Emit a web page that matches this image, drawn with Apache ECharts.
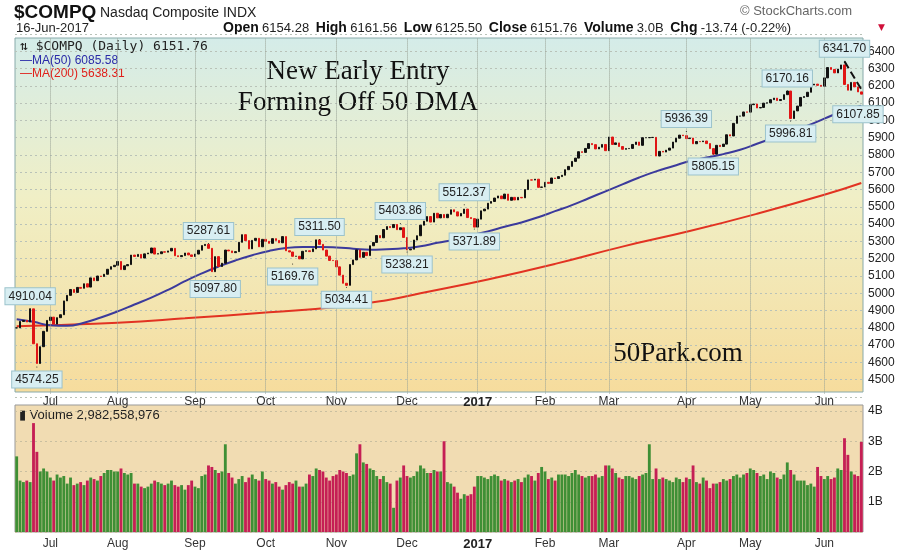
<!DOCTYPE html>
<html><head><meta charset="utf-8">
<script src="https://cdn.jsdelivr.net/npm/echarts@6/dist/echarts.min.js"></script>
<style>html,body{margin:0;padding:0;background:#fff}#c{width:900px;height:554px}</style>
</head><body><div id="c"></div>
<script>
// ---- data ----
const holidays = ['2016-07-04','2016-09-05','2016-11-24','2016-12-26','2017-01-02','2017-01-16','2017-02-20','2017-04-14','2017-05-29'];
const closesByMonth = [
 [4800,4837,4843,4834,4910,4708,4594,4691,4780,4843],
 [4862,4822,4859,4876,4956,4988,5022,5005,5034,5029,5055,5036,5089,5073,5100,5097,5110,5139,5154,5162],
 [5184,5137,5159,5166,5221,5213,5225,5204,5228,5233,5262,5227,5229,5240,5238,5245,5260,5217,5212,5218,5233,5222,5213],
 [5227,5249,5276,5283,5260,5125,5212,5155,5174,5250,5245,5235,5241,5295,5339,5305,5257,5306,5318,5269,5312],
 [5301,5289,5316,5306,5292,5328,5246,5239,5214,5214,5199,5243,5246,5241,5257,5309,5283,5250,5215,5190,5189],
 [5153,5105,5058,5046,5166,5193,5251,5208,5237,5218,5275,5294,5334,5321,5369,5386,5380,5398,5368,5379,5323],
 [5251,5255,5308,5333,5394,5417,5444,5412,5463,5436,5456,5437,5457,5483,5471,5447,5462,5487,5438,5432,5383],
 [5429,5477,5487,5521,5531,5551,5563,5547,5574,5538,5555,5540,5555,5552,5600,5656,5655,5660,5613,5615],
 [5642,5636,5667,5664,5675,5683,5715,5734,5763,5782,5819,5815,5838,5866,5860,5835,5845,5861,5825],
 [5904,5861,5870,5849,5833,5837,5838,5861,5875,5856,5900,5900,5901,5902,5794,5821,5817,5828,5840,5875,5897,5915,5912],
 [5895,5898,5865,5878,5877,5881,5866,5837,5805,5856,5849,5863,5917,5910,5983,6025,6025,6049,6048],
 [6091,6095,6072,6075,6100,6102,6120,6129,6115,6121,6149,6170,6011,6055,6083,6133,6138,6163,6205,6210,6203,6198],
 [6246,6306,6295,6275,6297,6321,6208,6175,6220,6194,6165,6152]
];
const volumeByMonth = [
 [2.5,1.7,1.65,1.7,1.65,3.6,2.65,2.0,2.1,2.0],
 [1.8,1.7,1.9,1.8,1.85,1.6,1.8,1.55,1.6,1.65,1.55,1.7,1.8,1.75,1.7,1.85,1.95,2.05,2.05,2.0],
 [2.0,2.1,1.95,1.9,1.95,1.6,1.6,1.5,1.45,1.5,1.6,1.7,1.65,1.6,1.55,1.6,1.7,1.55,1.5,1.55,1.4,1.55,1.7],
 [1.5,1.45,1.85,1.9,2.2,2.15,2.05,1.95,2.0,2.9,1.95,1.8,1.6,1.75,1.85,1.65,1.8,1.9,1.75,1.7,2.0],
 [1.75,1.7,1.6,1.65,1.5,1.4,1.55,1.65,1.6,1.7,1.5,1.5,1.6,1.9,1.85,2.1,2.05,2.0,1.8,1.7,1.85],
 [1.9,2.05,2.0,1.95,1.85,1.9,2.6,2.9,2.3,2.25,2.1,2.05,1.85,1.75,1.85,1.65,1.6,0.8,1.7,1.8,2.2],
 [1.85,1.8,1.85,2.0,2.2,2.1,1.95,1.95,2.05,2.0,2.0,3.0,1.65,1.6,1.5,1.3,1.1,1.25,1.2,1.25,1.5],
 [1.85,1.85,1.8,1.75,1.85,1.9,1.85,1.7,1.75,1.7,1.65,1.7,1.75,1.65,1.8,1.9,1.85,1.7,1.95,2.15],
 [2.0,1.75,1.8,1.7,1.9,1.9,1.9,1.85,1.95,2.05,1.9,1.85,1.8,1.85,1.85,1.9,1.8,1.85,2.2],
 [2.2,2.1,1.95,1.8,1.75,1.85,1.85,1.8,1.75,1.85,1.9,1.95,2.9,1.75,2.1,1.75,1.8,1.75,1.7,1.65,1.8,1.75,1.65],
 [1.8,1.75,2.2,1.65,1.6,1.8,1.7,1.45,1.6,1.6,1.65,1.75,1.7,1.75,1.85,1.9,1.8,1.9,1.95],
 [2.1,2.05,1.95,1.85,1.9,1.75,2.0,1.95,1.8,1.75,1.9,2.3,2.05,1.9,1.7,1.7,1.7,1.55,1.6,1.5,2.15,1.85],
 [1.75,1.85,1.75,1.8,2.1,2.05,3.1,2.55,2.0,1.9,1.85,2.98]
];
// moving averages sampled at trading-day indexes
const ma50Points = [[0,4850],[5,4835],[10,4815],[15,4812],[20,4830],[25,4860],[30,4895],[35,4935],[40,4975],[45,5020],[50,5070],[55,5115],[60,5155],[65,5190],[70,5220],[75,5245],[80,5262],[85,5268],[90,5268],[95,5265],[100,5258],[105,5252],[110,5255],[115,5260],[120,5272],[125,5292],[130,5310],[135,5335],[140,5358],[145,5385],[150,5410],[155,5440],[160,5475],[165,5510],[170,5550],[175,5590],[180,5630],[185,5670],[190,5705],[195,5735],[200,5765],[205,5785],[210,5805],[215,5830],[220,5865],[225,5900],[230,5935],[235,5970],[240,6010],[245,6050],[250,6080],[251,6085.58]];
const ma200Points = [[0,4810],[10,4815],[30,4830],[50,4855],[75,4890],[95,4920],[110,4960],[120,5000],[140,5080],[160,5170],[180,5270],[200,5360],[220,5460],[240,5570],[251,5638.31]];
const annotations = [
 ['2016-06-23',4910.04,'top'],['2016-06-27',4574.25,'bottom'],['2016-09-08',5287.61,'top'],['2016-09-12',5097.80,'bottom'],
 ['2016-10-25',5311.50,'top'],['2016-10-13',5169.76,'bottom'],['2016-11-04',5034.41,'bottom'],['2016-11-29',5403.86,'top'],
 ['2016-12-01',5238.21,'bottom'],['2016-12-27',5512.37,'top'],['2016-12-30',5371.89,'bottom'],['2017-04-03',5936.39,'top'],
 ['2017-04-13',5805.15,'bottom'],['2017-05-16',6170.16,'top'],['2017-05-17',5996.81,'bottom'],['2017-06-09',6341.70,'top'],
 ['2017-06-15',6107.85,'bottom']
];
const trendLine = [['2017-06-09',6341.70],['2017-06-16',6180]];
const monthNames = ['Jan','Feb','Mar','Apr','May','Jun','Jul','Aug','Sep','Oct','Nov','Dec'];

// ---- build ----
const closes = closesByMonth.flat(), volumes = volumeByMonth.flat();
const dates = [];
{ let d = new Date(Date.UTC(2016,5,17)); const end = Date.UTC(2017,5,16);
  while (d.getTime() <= end) { const s = d.toISOString().slice(0,10); const w = d.getUTCDay();
    if (w!==0 && w!==6 && !holidays.includes(s)) dates.push(s); d = new Date(d.getTime()+86400000); } }
const candles = closes.map((c,i)=>{ const o = i ? closes[i-1] : c; return [o,c,Math.min(o,c),Math.max(o,c)]; });
const volData = volumes.map((v,i)=>({value:v, itemStyle:{color: (i && closes[i]<closes[i-1]) ? '#c51f55' : '#3f8f35'}}));
const ma50 = dates.map(()=>null); ma50Points.forEach(p=>ma50[p[0]]=p[1]);
const ma200 = dates.map(()=>null); ma200Points.forEach(p=>ma200[p[0]]=p[1]);
const isMonthStart = dates.map((d,i)=> i>0 && d.slice(5,7)!==dates[i-1].slice(5,7));
const monthStarts = dates.filter((d,i)=>isMonthStart[i]);
const monthLabel = (v)=>{ const m=+v.slice(5,7); return m===1 ? '{b|'+v.slice(0,4)+'}' : monthNames[m-1]; };
const vLineStyle = {color:'#9aa396',type:'dotted',width:1};
const vLines = (lo,hi)=>monthStarts.map(d=>[{coord:[d,lo],lineStyle:vLineStyle},{coord:[d,hi]}]);

const chart = echarts.init(document.getElementById('c'));
const xLab = {interval:(i)=>isMonthStart[i],formatter:monthLabel,fontSize:12,color:'#333',fontFamily:'Liberation Sans',
     rich:{b:{fontWeight:'bold',fontSize:13,color:'#222'}}};
chart.setOption({
 animation:false,
 grid:[{left:15,right:37,top:34,bottom:157},{left:15,right:37,top:411,bottom:22}],
 xAxis:[
  {type:'category',data:dates,gridIndex:0,boundaryGap:true,axisLine:{show:false},axisTick:{show:false},splitLine:{show:false},
   axisLabel:Object.assign({margin:-1},xLab)},
  {type:'category',data:dates,gridIndex:1,boundaryGap:true,axisLine:{show:false},axisTick:{show:false},splitLine:{show:false},
   axisLabel:Object.assign({margin:6},xLab)}
 ],
 yAxis:[
  {type:'value',gridIndex:0,position:'right',min:4400,max:6500,interval:100,
   axisLabel:{fontSize:12,color:'#222',margin:5,fontFamily:'Liberation Sans',formatter:(v)=>(v<=4400||v>=6500)?'':v},
   splitLine:{lineStyle:{color:'#b9c2b8',type:[2,3]}},axisLine:{show:false}},
  {type:'value',gridIndex:1,position:'right',min:0,max:4,interval:1,
   axisLabel:{fontSize:12,color:'#222',margin:5,fontFamily:'Liberation Sans',formatter:(v)=>v?v+'B':''},
   splitLine:{lineStyle:{color:'#c9bfa0',type:[2,3]}},axisLine:{show:false}}
 ],
 graphic:[
  {type:'rect',shape:{x:15,y:38,width:848,height:354},z:-10,silent:true,
   style:{stroke:'#8aa',lineWidth:1,fill:new echarts.graphic.LinearGradient(0,0,0,1,[{offset:0,color:'#d4ece9'},{offset:0.45,color:'#f0efc6'},{offset:1,color:'#f6dc9d'}])}},
  {type:'rect',shape:{x:15,y:405,width:848,height:127},z:-10,silent:true,style:{stroke:'#999',lineWidth:1,fill:'#f1dcb2'}},
  {type:'text',left:14,top:3,style:{text:'$COMPQ',font:'bold 19px Liberation Sans',fill:'#111'}},
  {type:'text',left:100,top:6,style:{text:'Nasdaq Composite INDX',font:'14px Liberation Sans',fill:'#222'}},
  {type:'text',left:16,top:22,style:{text:'16-Jun-2017',font:'13px Liberation Sans',fill:'#222'}},
  {type:'text',left:223,top:21,style:{rich:{b:{font:'bold 14px Liberation Sans',fill:'#111'},n:{font:'13px Liberation Sans',fill:'#222'}},
    text:'{b|Open} {n|6154.28}  {b|High} {n|6161.56}  {b|Low} {n|6125.50}  {b|Close} {n|6151.76}  {b|Volume} {n|3.0B}  {b|Chg} {n|-13.74 (-0.22%)} ',fill:'#222'}},
  {type:'text',left:878,top:23,style:{text:'▼',font:'9px DejaVu Sans',fill:'#d0103a'}},
  {type:'text',left:740,top:5,style:{text:'© StockCharts.com',font:'13px Liberation Sans',fill:'#666'}},
  {type:'text',left:20,top:40,style:{text:'⇅ $COMPQ (Daily) 6151.76',font:'13px DejaVu Sans Mono',fill:'#222'}},
  {type:'text',left:20,top:55,style:{text:'—MA(50) 6085.58',font:'12px Liberation Sans',fill:'#2a2aa8'}},
  {type:'text',left:20,top:68,style:{text:'—MA(200) 5638.31',font:'12px Liberation Sans',fill:'#e0201a'}},
  {type:'text',x:358,y:72,style:{text:'New Early Entry',font:'27px Liberation Serif',fill:'#111',textAlign:'center',textVerticalAlign:'middle'}},
  {type:'text',x:358,y:103,style:{text:'Forming Off 50 DMA',font:'27px Liberation Serif',fill:'#111',textAlign:'center',textVerticalAlign:'middle'}},
  {type:'text',x:678,y:354,style:{text:'50Park.com',font:'27px Liberation Serif',fill:'#111',textAlign:'center',textVerticalAlign:'middle'}},
  {type:'text',left:19,top:409,style:{text:'▮ Volume 2,982,558,976',font:'13px Liberation Sans',fill:'#222'}}
 ],
 series:[
  {type:'line',data:ma200,xAxisIndex:0,yAxisIndex:0,connectNulls:true,smooth:true,symbol:'none',lineStyle:{color:'#e23322',width:2}},
  {type:'line',data:ma50,xAxisIndex:0,yAxisIndex:0,connectNulls:true,smooth:true,symbol:'none',lineStyle:{color:'#3b3a9c',width:2}},
  {type:'candlestick',data:candles,xAxisIndex:0,yAxisIndex:0,barWidth:2,z:3,
   itemStyle:{color:'#111',color0:'#e01515',borderColor:'#111',borderColor0:'#e01515',borderWidth:1},
   markLine:{symbol:'none',silent:true,label:{show:false},lineStyle:{color:'#111',type:'dashed',width:2},
     data:[[{coord:trendLine[0]},{coord:trendLine[1]}]].concat(vLines(4420,6475))},
   markPoint:{symbol:'circle',symbolSize:1,silent:true,
    data:annotations.map(a=>({coord:[a[0],a[1]],label:{show:true,formatter:a[1].toFixed(2),position:a[2],distance:4,
      backgroundColor:'#d8eef2',borderColor:'#9cc3cc',borderWidth:1,padding:[2,3],color:'#222',fontSize:12,fontFamily:'Liberation Sans'}}))}},
  {type:'bar',data:volData,xAxisIndex:1,yAxisIndex:1,barCategoryGap:'15%',
   markLine:{symbol:'none',silent:true,label:{show:false},data:vLines(0,4.1)}}
 ]
});
</script></body></html>
